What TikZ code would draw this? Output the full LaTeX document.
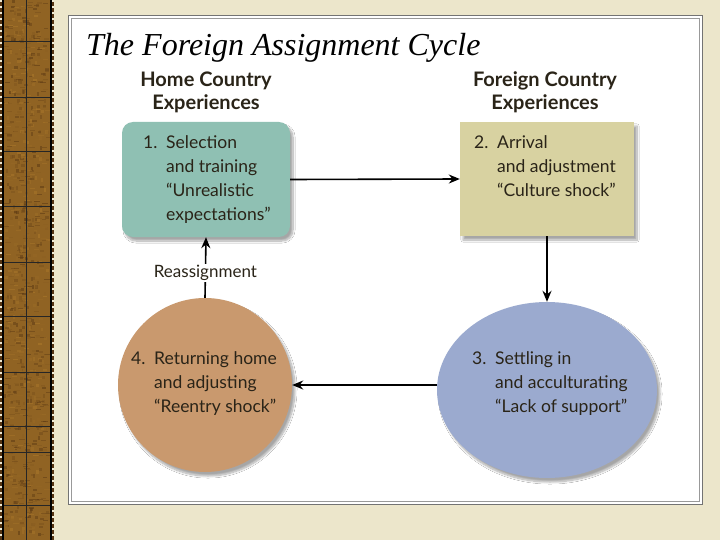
\documentclass[tikz,border=0pt]{standalone}
\usepackage{fontspec}
\setmainfont{Lato}
\newfontfamily\titlefont{Liberation Serif}
\usetikzlibrary{arrows.meta,shapes.geometric,shadows.blur}
\definecolor{cream}{HTML}{ECE6CB}
\definecolor{wooddark}{HTML}{553412}
\definecolor{woodlight}{HTML}{B07C2C}
\definecolor{tealbox}{HTML}{8FC0B3}
\definecolor{khakibox}{HTML}{D8D2A1}
\definecolor{browncirc}{HTML}{C9996E}
\definecolor{blueell}{HTML}{9BAACF}
\definecolor{txt}{HTML}{2A2418}
\tikzset{
  shapebase/.style={draw=none, inner sep=0pt,
    blur shadow={shadow xshift=3pt, shadow yshift=-4pt, shadow blur steps=10, shadow opacity=35}},
  stagebox/.style={shapebase, rectangle, minimum width=168pt, minimum height=115pt},
  stagetext/.style={anchor=west, inner sep=0pt, text=txt, font=\fontsize{17.5}{24}\selectfont},
  headtext/.style={align=center, inner sep=0pt, text=txt, font=\bfseries\fontsize{20}{23}\selectfont},
  flow/.style={line width=1.6pt, -{Stealth[length=11pt,width=9pt]}},
}
\newcommand{\stagelines}[4]{\begin{tabular}{@{}p{23pt}@{}l@{}}#1&#2\\&#3\\&#4\end{tabular}}
\begin{document}
\begin{tikzpicture}[x=1pt,y=-1pt]
\useasboundingbox (0,0) rectangle (720,540);
% background
\fill[cream] (0,0) rectangle (720,540);
% wood strip
\fill[wooddark] (0,0) rectangle (54,540);
\fill[woodlight!65!wooddark] (4,0) rectangle (50,540);
\pgfmathsetseed{7}
\foreach \i in {1,...,900}{
  \pgfmathsetmacro\xx{rnd*42+4}
  \pgfmathsetmacro\yy{rnd*534}
  \pgfmathsetmacro\cc{rnd*100}
  \pgfmathsetmacro\ww{rnd*4+2}
  \fill[woodlight!\cc!wooddark, opacity=.5] (\xx,\yy) rectangle ++(\ww,6-\ww);
}
\draw[black!85, line width=1pt] (26,0) -- (26,540);
\foreach \yy in {42,98,152,207,262,316,372,426,452,505}{
  \draw[black!85, line width=1pt] (4,\yy) -- (50,\yy);
}
\draw[black, line width=1.6pt] (3,0) -- (3,540);
\draw[black, line width=1.6pt] (51,0) -- (51,540);
\draw[cream!80!white, line width=1.4pt, dash pattern=on 2pt off 4pt] (1,0) -- (1,540);
\draw[cream!80!white, line width=1.4pt, dash pattern=on 2pt off 4pt] (53,0) -- (53,540);
% panel
\fill[white] (68.5,15.5) rectangle (702.5,504.5);
\draw[black!55, line width=1.2pt] (68.5,15.5) rectangle (702.5,504.5);
\draw[black!40, line width=0.8pt] (71.5,18.5) rectangle (699.5,501.5);
% title
\node[anchor=base west, inner sep=0pt, font=\titlefont\itshape\fontsize{32}{36}\selectfont] (title) at (86,56) {The Foreign Assignment Cycle};
% headers
\node[headtext] (hhome) at (206,92) {Home Country\\Experiences};
\node[headtext] (hforeign) at (545,92) {Foreign Country\\Experiences};
% stage shapes
\node[stagebox, fill=tealbox, rounded corners=11pt] (b1) at (206,179.5) {};
\node[stagebox, fill=khakibox, minimum width=174pt, minimum height=114pt] (b2) at (547,179) {};
\node[shapebase, circle, fill=browncirc, minimum size=174pt] (c4) at (205,385) {};
\node[shapebase, ellipse, fill=blueell, minimum width=220pt, minimum height=176pt] (e3) at (547,390) {};
% stage texts
\node[stagetext] (t1) at (143,180) {\begin{tabular}{@{}p{23pt}@{}l@{}}1.&Selection\\&and training\\&“Unrealistic\\&expectations”\end{tabular}};
\node[stagetext] (t2) at (474,168) {\stagelines{2.}{Arrival}{and adjustment}{“Culture shock”}};
\node[stagetext] (t4) at (131,383.5) {\stagelines{4.}{Returning home}{and adjusting}{“Reentry shock”}};
\node[stagetext] (t3) at (472,383.5) {\stagelines{3.}{Settling in}{and acculturating}{“Lack of support”}};
% connectors
\draw[flow] (b1.east) -- (b2.west);
\draw[flow] (b2.south) -- (e3.north);
\draw[flow] (c4.east -| e3.west) -- (c4.east);
\draw[flow] (c4.north) -- node[pos=0.41, fill=white, inner sep=1.5pt, text=txt, font=\fontsize{17}{20}\selectfont] (lreassign) {Reassignment} (b1.south);
\end{tikzpicture}
\end{document}
